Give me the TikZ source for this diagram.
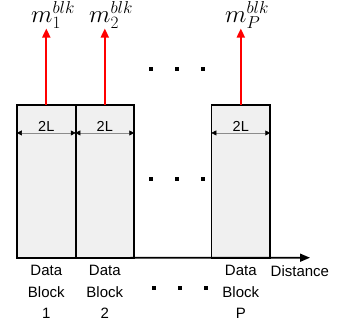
\documentclass[tikz,border=0pt]{standalone}
\usepackage{fontspec}
\setmainfont{Liberation Sans}
\usetikzlibrary{arrows.meta,calc}
\definecolor{blockfill}{HTML}{F0F0F0}
\definecolor{dimgrey}{HTML}{8C8C8C}
\begin{document}
\begin{tikzpicture}[x=1pt,y=-1pt,
  blockbox/.style={fill=blockfill,minimum width=58.5pt,minimum height=152.5pt,inner sep=0pt},
  blockedge/.style={draw=black,line width=1.6pt},
  outarrow/.style={draw=red,line width=1.8pt,-{Triangle[length=9pt,width=8pt]}},
  dimline/.style={draw=dimgrey,line width=0.6pt,{Triangle[length=5pt,width=5pt,color=black]}-{Triangle[length=5pt,width=5pt,color=black]}},
  dimtext/.style={font=\fontsize{14.5}{16}\selectfont,inner sep=0pt},
  mlabel/.style={font=\fontsize{23}{25}\selectfont,inner sep=0pt,anchor=south west},
  blocklabel/.style={font=\fontsize{15}{21.5}\selectfont,align=center,inner sep=0pt,anchor=north},
  dotmark/.style={fill=black,minimum size=4pt,inner sep=0pt},
  axisline/.style={draw=black,line width=1.6pt,-{Triangle[length=10pt,width=8pt]}}]
\useasboundingbox (0,0) rectangle (342,322);

% data blocks: fills first, outlines on top so shared edges keep full width
\node[blockbox] (b1) at (46.3,181.4) {};
\node[blockbox] (b2) at (104.8,181.4) {};
\node[blockbox] (bP) at (240.8,181.4) {};
\foreach \b in {b1,b2,bP}{
  \draw[blockedge] (\b.south west) rectangle (\b.north east);
}

% width markers inside each block
\foreach \b in {b1,b2,bP}{
  \draw[dimline] ([yshift=-28pt]\b.north west) -- ([yshift=-28pt]\b.north east);
  \node[dimtext] at ([yshift=-21pt]\b.north) {2L};
}

% block outputs
\node[mlabel] (m1) at (31,28.5) {$m_1^{blk}$};
\node[mlabel] (m2) at (89,28.5) {$m_2^{blk}$};
\node[mlabel] (mP) at (225,28.5) {$m_P^{blk}$};
\draw[outarrow] (b1.north) -- (b1.north |- m1.south);
\draw[outarrow] (b2.north) -- (b2.north |- m2.south);
\draw[outarrow] (bP.north) -- (bP.north |- mP.south);

% distance axis
\coordinate (axend) at (310,257.7);
\draw[axisline] (b1.south west) -- (axend);
\node[font=\fontsize{15}{18}\selectfont,anchor=west,inner sep=0pt] (dist) at (270.5,271) {Distance};

% block names
\node[blocklabel] (l1) at (46.3,265) {Data\\Block\\1};
\node[blocklabel] (l2) at (104.8,265) {Data\\Block\\2};
\node[blocklabel] (lP) at (240.8,265) {Data\\Block\\P};

% ellipses
\foreach \x/\n in {150.5/1,176.5/2,202.5/3}{
  \node[dotmark] (ta\n) at (\x,69) {};
  \node[dotmark] (ma\n) at (\x+0.5,178.5) {};
  \node[dotmark] (ba\n) at (\x+3,288) {};
}
\end{tikzpicture}
\end{document}
